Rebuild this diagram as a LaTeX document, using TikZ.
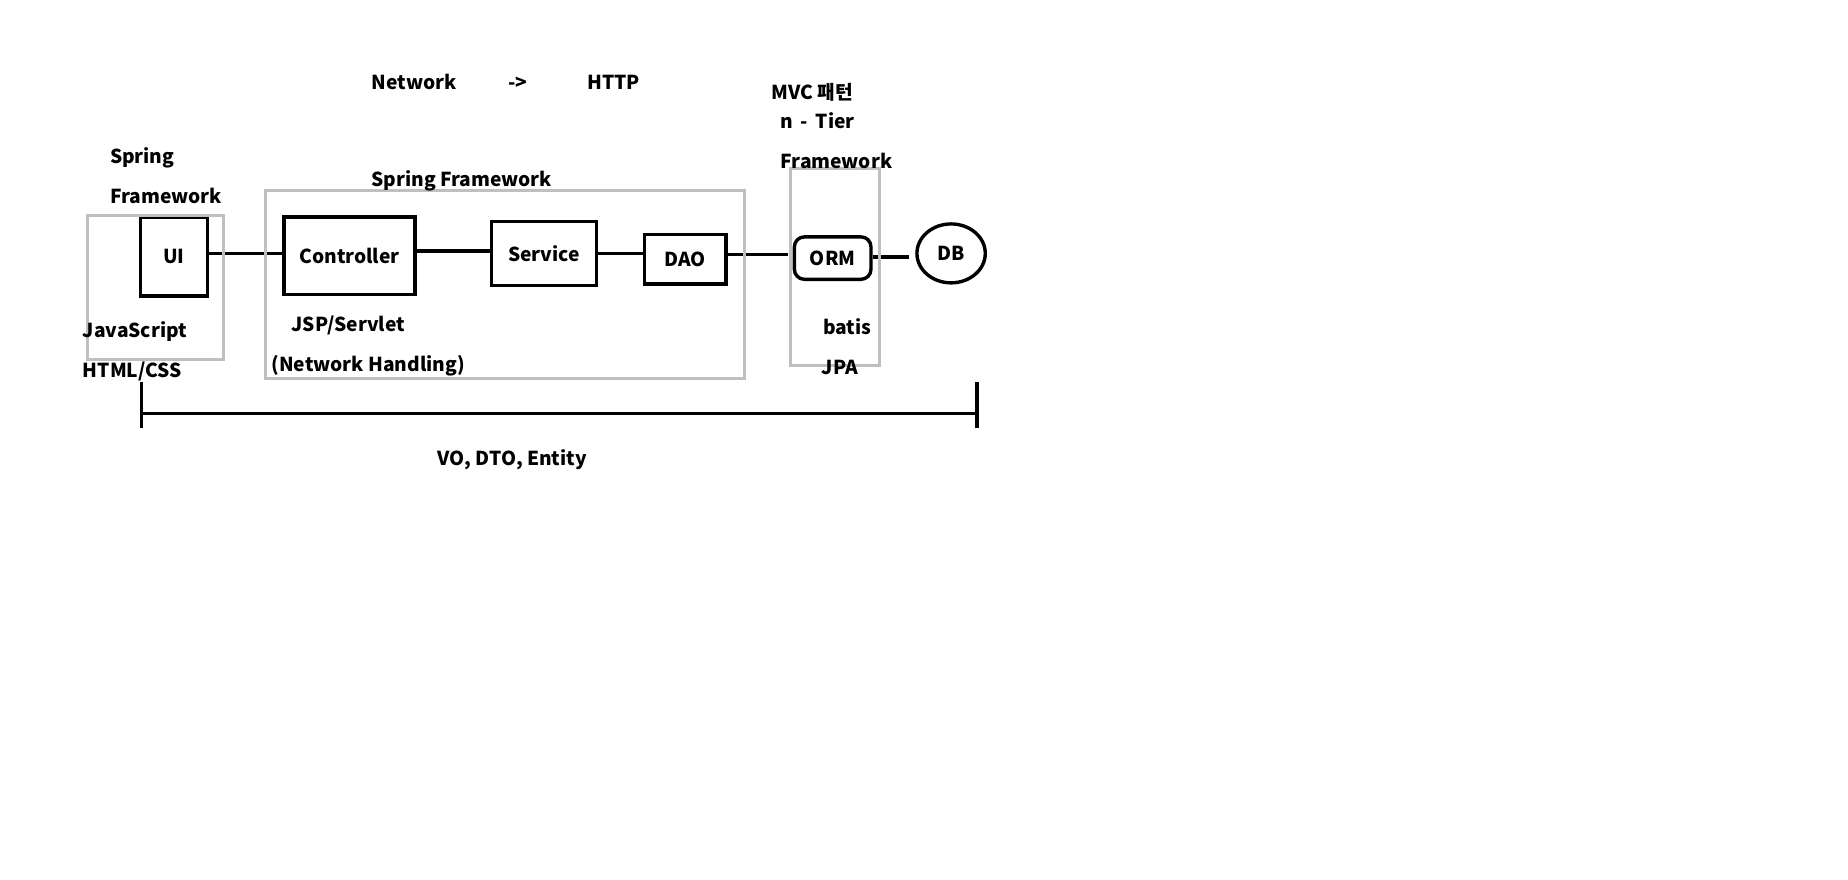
\documentclass[tikz,border=0pt]{standalone}
\usepackage{fontspec}
\setmainfont{Noto Sans CJK KR}
\usetikzlibrary{shapes.geometric}
\def\U{0.5893pt}
\tikzset{
  box/.style={draw, line width=1.7pt, inner sep=0pt},
  grayframe/.style={draw=black!25, line width=1.5pt},
  conn/.style={line width=1.7pt},
  lbl/.style={anchor=mid west, inner sep=0pt},
}
\begin{document}
\begin{tikzpicture}[x=\U,y=-\U,font=\bfseries\fontsize{9.6}{11}\selectfont]
\useasboundingbox (0,0) rectangle (1568,746);
\fill[white] (0,0) rectangle (1568,746);
% boxes
\node[box, minimum width=57*\U, minimum height=67*\U] (ui) at (147.5,217.5) {UI};
\node[box, minimum width=111*\U, minimum height=66*\U] (ctrl) at (296.5,217) {Controller};
\node[box, minimum width=89*\U, minimum height=54*\U] (svc) at (461.5,215) {Service};
\node[box, minimum width=69*\U, minimum height=42*\U] (dao) at (581.5,220) {DAO};
\node[box, rounded corners=5pt, minimum width=65*\U, minimum height=36*\U] (orm) at (706.5,219) {ORM};
\node[box, ellipse, minimum width=58*\U, minimum height=50*\U] (db) at (807,215) {DB};
% connectors
\draw[conn] ([shift={(0,-2.5)}]ui.east) -- ([shift={(0,-2.5)}]ui.east -| ctrl.west);
\draw[conn] ([shift={(0,-4)}]ctrl.east) -- ([shift={(0,-4)}]ctrl.east -| svc.west);
\draw[conn] (svc.east) -- (svc.east -| dao.west);
\draw[conn, shorten >=2.5pt] ([shift={(0,-4)}]dao.east) -- ([shift={(0,-4)}]dao.east -| orm.west);
\draw[conn, shorten >=3pt] ([shift={(0,-1)}]orm.east) -- ([shift={(0,-1)}]orm.east -| db.west);
% bracket
\coordinate (bl) at (120,351);
\coordinate (br) at (829,351);
\draw[conn] (bl) -- (br);
\draw[conn] ([shift={(0,-27)}]bl) -- ([shift={(0,12)}]bl);
\draw[conn] ([shift={(0,-27)}]br) -- ([shift={(0,12)}]br);
% gray frames
\draw[grayframe] (74,183) rectangle (190,305);
\draw[grayframe] (225,162) rectangle (632,321);
\draw[grayframe] (671,143) rectangle (746,310);
% labels
\node[lbl] (t1) at (315,71) {Network};
\node[lbl] (t2) at (431,71) {->};
\node[lbl] (t3) at (498,71) {HTTP};
\node[lbl] (t4) at (654,80) {MVC 패턴};
\node[lbl] (t5) at (662,104) {n \,-\, Tier};
\node[lbl] (t6) at (93,134) {Spring};
\node[lbl] (t7) at (93,168) {Framework};
\node[lbl] (t8) at (662,138) {Framework};
\node[lbl] (t9) at (315,154) {Spring Framework};
\node[lbl] (t10) at (70,282) {JavaScript};
\node[lbl] (t11) at (70,316) {HTML/CSS};
\node[lbl] (t12) at (247,277) {JSP/Servlet};
\node[lbl] (t13) at (230,311) {(Network Handling)};
\node[lbl] (t14) at (698,279) {batis};
\node[lbl] (t15) at (697,313) {JPA};
\node[lbl] (t16) at (371,390) {VO, DTO, Entity};
\end{tikzpicture}
\end{document}
